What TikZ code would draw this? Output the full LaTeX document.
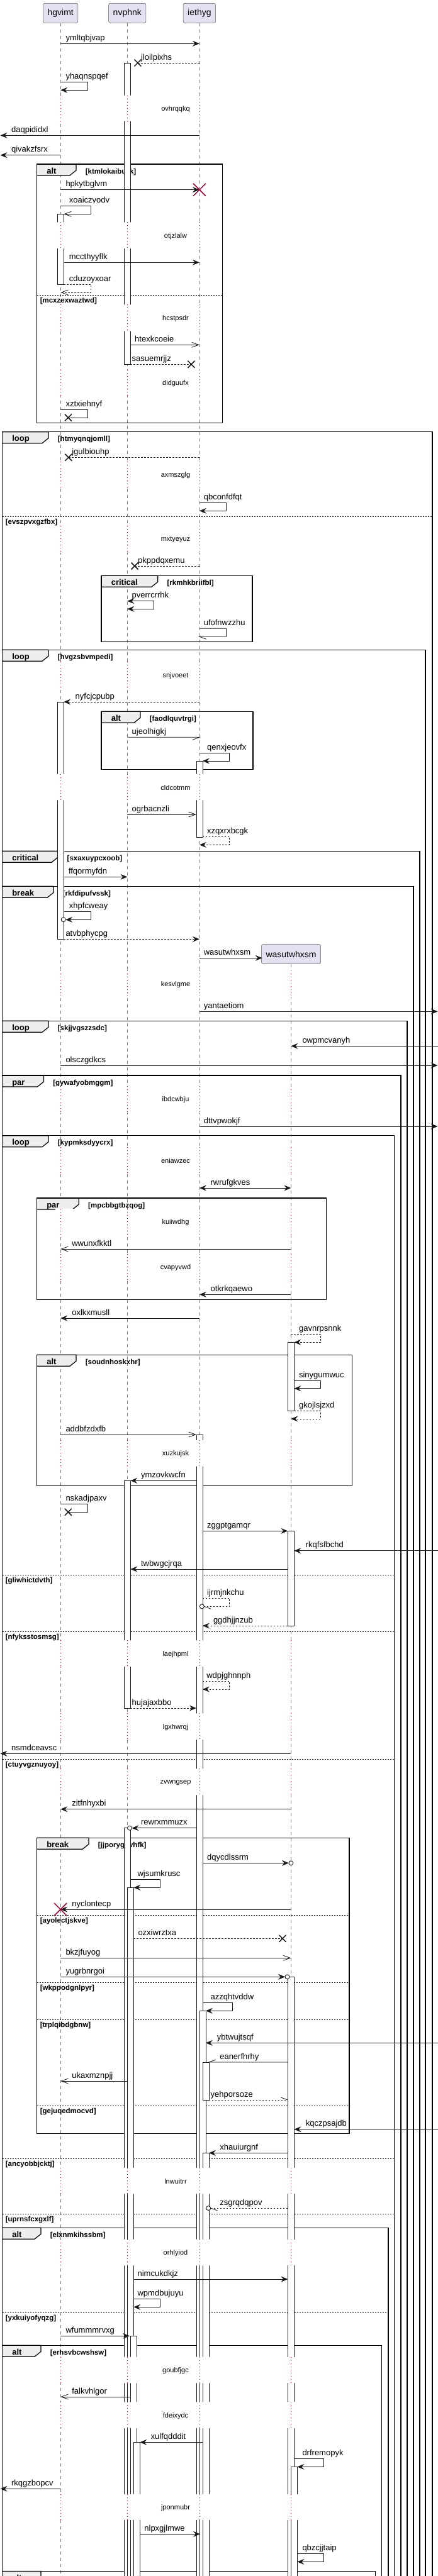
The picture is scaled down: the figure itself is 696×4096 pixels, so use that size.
\documentclass[tikz,border=0pt]{standalone}
\usepackage{fontspec}
\setmainfont{Liberation Sans}
\usetikzlibrary{arrows.meta}

\definecolor{partfill}{RGB}{226,226,240}
\definecolor{partline}{RGB}{90,90,90}
\definecolor{lifegray}{RGB}{120,120,120}
\definecolor{ink}{RGB}{24,24,24}
\definecolor{delayred}{RGB}{168,0,54}
\definecolor{tabfill}{RGB}{238,238,238}

\tikzset{
	part/.style={draw=partline, fill=partfill, rounded corners=2.5pt, line width=0.5pt,
		minimum height=31pt, inner xsep=7pt, font=\fontsize{14}{16}\selectfont},
	life/.style={draw=lifegray, line width=0.6pt, dash pattern=on 5pt off 5pt},
	act/.style={draw=ink, fill=white, line width=0.8pt},
	plain/.style={draw=ink, line width=0.8pt},
	msg/.style={plain, -{Stealth[length=11pt, width=9pt, inset=4pt]}},
	opn/.style={plain, -{Straight Barb[length=11pt, width=8pt]}},
	bidir/.style={plain, {Stealth[length=11pt, width=9pt, inset=4pt]}-{Stealth[length=11pt, width=9pt, inset=4pt]}},
	ret/.style={dash pattern=on 2.5pt off 2.5pt},
	lbl/.style={anchor=base west, inner sep=0pt, font=\fontsize{13}{15}\selectfont},
	dly/.style={inner sep=0pt, font=\fontsize{11}{13}\selectfont},
	dline/.style={draw=delayred, line width=0.8pt, dash pattern=on 1pt off 4pt},
	grpframe/.style={draw=black, line width=1.5pt},
	tab/.style={draw=black, fill=tabfill, line width=1.2pt},
	kw/.style={anchor=base west, inner sep=0pt, font=\fontsize{13}{15}\selectfont\bfseries},
	grd/.style={anchor=base west, inner sep=0pt, font=\fontsize{11.5}{13}\selectfont\bfseries},
	elseline/.style={draw=black, line width=0.7pt, dash pattern=on 2pt off 2pt},
	xmark/.style={draw=ink, line width=1.5pt},
	kill/.style={draw=delayred, line width=1.5pt},
	endo/.style={draw=ink, fill=white, line width=0.9pt},
}

\begin{document}
\begin{tikzpicture}[x=1pt, y=-1pt]
	\useasboundingbox (0,0) rectangle (696,4096);
	\fill[white] (0,0) rectangle (696,4096);
	\clip (0,0) rectangle (696,4096);

	\node[part] (hgvimt) at (96.2,20.8) {hgvimt};
	\node[part] (nvphnk) at (202.3,20.8) {nvphnk};
	\node[part] (iethyg) at (316.9,20.8) {iethyg};
	\draw[life] (hgvimt.south) -- (hgvimt.south |- 0,4110);
	\draw[life] (nvphnk.south) -- (nvphnk.south |- 0,4110);
	\draw[life] (iethyg.south) -- (iethyg.south |- 0,4110);
	\node[part] (wasutwhxsm) at (462.6,1517) {wasutwhxsm};
	\draw[life] (wasutwhxsm.south) -- (wasutwhxsm.south |- 0,4110);

	\draw[tab] (58.6,261) -- (120.9,261) -- (120.9,271) -- (110.9,279) -- (58.6,279);
	\draw[grpframe] (58.6,261) rectangle (353.6,672.3);
	\node[kw] (altA) at (74.1,276) {alt};
	\node[grd] (ktmlokaibuzk) at (135.6,276) {[ktmlokaibuzk]};
	\draw[elseline] (58.6,469) -- (353.6,469);
	\node[grd] (mcxzexwaztwd) at (63.6,481) {[mcxzexwaztwd]};

	\draw[tab] (3.6,686.7) -- (77,686.7) -- (77,696.7) -- (67,704.7) -- (3.6,704.7);
	\draw[grpframe] (3.6,4110) -- (3.6,686.7) -- (687.1,686.7) -- (687.1,4110);
	\node[kw] (loopA) at (19.1,701.7) {loop};
	\node[grd] (htmyqnqjomll) at (91.7,701.7) {[htmyqnqjomll]};
	\draw[elseline] (3.6,821) -- (687.1,821);
	\node[grd] (evszpvxgzfbx) at (8.6,833) {[evszpvxgzfbx]};

	\draw[tab] (161.1,915.3) -- (250.7,915.3) -- (250.7,925.3) -- (240.7,933.3) -- (161.1,933.3);
	\draw[grpframe] (161.1,915.3) rectangle (401.1,1020.7);
	\node[kw] (criticalA) at (176.6,930.3) {critical};
	\node[grd] (rkmhkbriifbl) at (265.4,930.3) {[rkmhkbriifbl]};

	\draw[tab] (3.6,1033.3) -- (77,1033.3) -- (77,1043.3) -- (67,1051.3) -- (3.6,1051.3);
	\draw[grpframe] (3.6,4110) -- (3.6,1033.3) -- (675.9,1033.3) -- (675.9,4110);
	\node[kw] (loopB) at (19.1,1048.3) {loop};
	\node[grd] (hvgzsbvmpedi) at (91.7,1048.3) {[hvgzsbvmpedi]};

	\draw[tab] (161.1,1131.3) -- (222.9,1131.3) -- (222.9,1141.3) -- (212.9,1149.3) -- (161.1,1149.3);
	\draw[grpframe] (161.1,1131.3) rectangle (402,1223.7);
	\node[kw] (altB) at (176.6,1146.3) {alt};
	\node[grd] (faodlquvtrgi) at (237.6,1146.3) {[faodlquvtrgi]};

	\draw[tab] (3.6,1353.3) -- (91.8,1353.3) -- (91.8,1363.3) -- (81.8,1371.3) -- (3.6,1371.3);
	\draw[grpframe] (3.6,4110) -- (3.6,1353.3) -- (666.9,1353.3) -- (666.9,4110);
	\node[kw] (criticalB) at (19.1,1368.3) {critical};
	\node[grd] (sxaxuypcxoob) at (106.5,1368.3) {[sxaxuypcxoob]};

	\draw[tab] (3.6,1409.3) -- (85,1409.3) -- (85,1419.3) -- (75,1427.3) -- (3.6,1427.3);
	\draw[grpframe] (3.6,4110) -- (3.6,1409.3) -- (657.1,1409.3) -- (657.1,4110);
	\node[kw] (breakA) at (19.1,1424.3) {break};
	\node[grd] (rkfdipufvssk) at (99.7,1424.3) {[rkfdipufvssk]};

	\draw[tab] (3.6,1623.3) -- (77,1623.3) -- (77,1633.3) -- (67,1641.3) -- (3.6,1641.3);
	\draw[grpframe] (3.6,4110) -- (3.6,1623.3) -- (646.8,1623.3) -- (646.8,4110);
	\node[kw] (loopC) at (19.1,1638.3) {loop};
	\node[grd] (skjjvgszzsdc) at (91.7,1638.3) {[skjjvgszzsdc]};

	\draw[tab] (3.6,1710) -- (69.4,1710) -- (69.4,1720) -- (59.4,1728) -- (3.6,1728);
	\draw[grpframe] (3.6,4110) -- (3.6,1710) -- (636.9,1710) -- (636.9,4110);
	\node[kw] (parA) at (19.1,1725) {par};
	\node[grd] (gywafyobmggm) at (84.1,1725) {[gywafyobmggm]};

	\draw[tab] (3.6,1805.7) -- (77,1805.7) -- (77,1815.7) -- (67,1823.7) -- (3.6,1823.7);
	\draw[grpframe] (3.6,4110) -- (3.6,1805.7) -- (626.6,1805.7) -- (626.6,4110);
	\node[kw] (loopD) at (19.1,1820.7) {loop};
	\node[grd] (kypmksdyycrx) at (91.7,1820.7) {[kypmksdyycrx]};
	\draw[elseline] (3.6,2504.3) -- (626.6,2504.3);
	\node[grd] (gliwhictdvth) at (8.6,2516.3) {[gliwhictdvth]};
	\draw[elseline] (3.6,2594.3) -- (626.6,2594.3);
	\node[grd] (nfyksstosmsg) at (8.6,2606.3) {[nfyksstosmsg]};
	\draw[elseline] (3.6,2797.3) -- (626.6,2797.3);
	\node[grd] (ctuyvgznuyoy) at (8.6,2809.3) {[ctuyvgznuyoy]};
	\draw[elseline] (3.6,3432.3) -- (626.6,3432.3);
	\node[grd] (ancyobbjcktj) at (8.6,3444.3) {[ancyobbjcktj]};
	\draw[elseline] (3.6,3520) -- (626.6,3520);
	\node[grd] (uprnsfcxgxlf) at (8.6,3532) {[uprnsfcxgxlf]};

	\draw[tab] (58.6,1905) -- (125.3,1905) -- (125.3,1915) -- (115.3,1923) -- (58.6,1923);
	\draw[grpframe] (58.6,1905) rectangle (518.3,2066.7);
	\node[kw] (parB) at (74.1,1920) {par};
	\node[grd] (mpcbbgtbzqog) at (140,1920) {[mpcbbgtbzqog]};

	\draw[tab] (58.6,2154.3) -- (120.9,2154.3) -- (120.9,2164.3) -- (110.9,2172.3) -- (58.6,2172.3);
	\draw[grpframe] (58.6,2154.3) rectangle (559.5,2362.7);
	\node[kw] (altC) at (74.1,2169.3) {alt};
	\node[grd] (soudnhoskxhr) at (135.6,2169.3) {[soudnhoskxhr]};

	\draw[tab] (58.6,2922.3) -- (141,2922.3) -- (141,2932.3) -- (131,2940.3) -- (58.6,2940.3);
	\draw[grpframe] (58.6,2922.3) rectangle (555,3392.3);
	\node[kw] (breakB) at (74.1,2937.3) {break};
	\node[grd] (jjporygnvhfk) at (155.7,2937.3) {[jjporygnvhfk]};
	\draw[elseline] (58.6,3045) -- (555,3045);
	\node[grd] (ayolectjskve) at (63.6,3057) {[ayolectjskve]};
	\draw[elseline] (58.6,3152.3) -- (555,3152.3);
	\node[grd] (wkppodgnlpyr) at (63.6,3164.3) {[wkppodgnlpyr]};
	\draw[elseline] (58.6,3211.7) -- (555,3211.7);
	\node[grd] (trplqibdgbnw) at (63.6,3223.7) {[trplqibdgbnw]};
	\draw[elseline] (58.6,3348.3) -- (555,3348.3);
	\node[grd] (gejuqedmocvd) at (63.6,3360.3) {[gejuqedmocvd]};

	\draw[tab] (3.6,3542.3) -- (64.9,3542.3) -- (64.9,3552.3) -- (54.9,3560.3) -- (3.6,3560.3);
	\draw[grpframe] (3.6,4110) -- (3.6,3542.3) -- (616.8,3542.3) -- (616.8,4110);
	\node[kw] (altD) at (19.1,3557.3) {alt};
	\node[grd] (elxnmkihssbm) at (79.6,3557.3) {[elxnmkihssbm]};
	\draw[elseline] (3.6,3677.3) -- (616.8,3677.3);
	\node[grd] (yxkuiyofyqzg) at (8.6,3689.3) {[yxkuiyofyqzg]};

	\draw[tab] (3.6,3729.3) -- (64.9,3729.3) -- (64.9,3739.3) -- (54.9,3747.3) -- (3.6,3747.3);
	\draw[grpframe] (3.6,4110) -- (3.6,3729.3) -- (606.5,3729.3) -- (606.5,4110);
	\node[kw] (altE) at (19.1,3744.3) {alt};
	\node[grd] (erhsvbcwshsw) at (79.6,3744.3) {[erhsvbcwshsw]};

	\draw[tab] (3.6,4088.3) -- (64.9,4088.3) -- (64.9,4098.3) -- (54.9,4106.3) -- (3.6,4106.3);
	\draw[grpframe] (3.6,4110) -- (3.6,4088.3) -- (596.7,4088.3) -- (596.7,4110);
	\node[kw] (altF) at (19.1,4103.3) {alt};

	\draw[act] (91.2,340.3) rectangle (101.2,452.3);
	\draw[act] (91.2,1116) rectangle (101.2,1493.3);
	\draw[act] (197.3,100) rectangle (207.3,579.3);
	\draw[act] (197.3,2354.3) rectangle (207.3,2716);
	\draw[act] (197.3,2906.7) rectangle (207.3,4110);
	\draw[act] (202.3,3001.3) rectangle (212.3,4110);
	\draw[act] (207.3,3714.3) rectangle (217.3,4110);
	\draw[act] (212.3,3883.3) rectangle (222.3,4110);
	\draw[act] (311.9,1210) rectangle (321.9,1331);
	\draw[act] (311.9,2281) rectangle (321.9,4110);
	\draw[act] (316.9,3197.3) rectangle (326.9,4110);
	\draw[act] (321.9,3279) rectangle (331.9,3339);
	\draw[act] (321.9,3423.3) rectangle (331.9,4110);
	\draw[act] (457.4,2134.3) rectangle (467.4,2243.3);
	\draw[act] (457.4,2434.3) rectangle (467.4,2585);
	\draw[act] (457.4,3143.3) rectangle (467.4,4110);
	\draw[act] (462.4,3922.3) rectangle (472.4,4110);

	\foreach \ya/\yb/\txt in {151.7/192.7/ovhrqqkq, 353.3/395/otjzlalw, 484.3/526.7/hcstpsdr,
		587.5/629/didguufx, 734/776/axmszglg, 836.3/878.3/mxtyeyuz, 1052.3/1094.3/snjvoeet,
		1230.7/1272.3/cldcotmm, 1543.3/1585/kesvlgme, 1727/1769/ibdcwbju, 1824/1866/eniawzec,
		1922/1964/kuiiwdhg, 1994/2036/cvapyvwd, 2290/2331.7/xuzkujsk, 2608.3/2650/laejhpml,
		2724.3/2766/lgxhwrqj, 2812.3/2854.3/zvwngsep, 3447/3488.3/lnwuitrr, 3560.7/3602.3/orhlyiod,
		3747.7/3789.3/goubfjgc, 3819.3/3861/fdeixydc, 3965.7/4006.7/jponmubr}
	{
		\fill[white] (88,\ya) rectangle (120,\yb) (195,\ya) rectangle (225,\yb) (309,\ya) rectangle (335,\yb);
		\draw[dline] (96.2,\ya) -- (96.2,\yb) (202.3,\ya) -- (202.3,\yb) (316.9,\ya) -- (316.9,\yb);
		\node[dly] (\txt) at (279,{(\ya+\yb)/2+1}) {\txt};
	}
	\foreach \ya/\yb in {1543.3/1585, 1727/1769, 1824/1866, 1922/1964, 1994/2036, 2290/2331.7,
		2608.3/2650, 2724.3/2766, 2812.3/2854.3, 3447/3488.3, 3560.7/3602.3, 3747.7/3789.3,
		3819.3/3861, 3965.7/4006.7}
	{
		\fill[white] (455,\ya) rectangle (476,\yb);
		\draw[dline] (462.4,\ya) -- (462.4,\yb);
	}

	\draw[msg] (96.2,69.3) -- (316.9,69.3);
	\node[lbl] (ymltqbjvap) at (104.3,64.3) {ymltqbjvap};
	\draw[plain, ret] (316.9,100) -- (218.9,100);
	\draw[xmark] (218.9,100) +(-5.5,-5.5) -- +(5.5,5.5) +(-5.5,5.5) -- +(5.5,-5.5);
	\node[lbl] (jloilpixhs) at (223.8,95) {jloilpixhs};
	\draw[msg] (96.2,130.7) -- (139.7,130.7) -- (139.7,143.3) -- (96.2,143.3);
	\node[lbl] (yhaqnspqef) at (104.3,125.7) {yhaqnspqef};
	\draw[msg] (316.9,215.3) -- (0.5,215.3);
	\node[lbl] (daqpididxl) at (17.9,210.3) {daqpididxl};
	\draw[msg] (96.2,246.7) -- (0.5,246.7);
	\node[lbl] (qivakzfsrx) at (17.9,241.7) {qivakzfsrx};
	\draw[msg] (96.2,301.7) -- (316.9,301.7);
	\draw[kill] (316.9,301.7) +(-10,-10) -- +(10,10) +(-10,10) -- +(10,-10);
	\node[lbl] (hpkytbglvm) at (104.3,296.7) {hpkytbglvm};
	\draw[opn] (96.2,327.7) -- (144.6,327.7) -- (144.6,340.3) -- (101.2,340.3);
	\node[lbl] (xoaiczvodv) at (109.7,322.7) {xoaiczvodv};
	\draw[msg] (101.2,417.3) -- (316.9,417.3);
	\node[lbl] (mccthyyflk) at (109.7,412.3) {mccthyyflk};
	\draw[opn, ret] (101.2,452.3) -- (144.6,452.3) -- (144.6,465) -- (96.2,465);
	\node[lbl] (cduzoyxoar) at (109.7,447.3) {cduzoyxoar};
	\draw[opn] (207.3,548.3) -- (316.9,548.3);
	\node[lbl] (htexkcoeie) at (214,543.3) {htexkcoeie};
	\draw[plain, ret] (207.3,579.3) -- (303.9,579.3);
	\draw[xmark] (303.9,579.3) +(-5.5,-5.5) -- +(5.5,5.5) +(-5.5,5.5) -- +(5.5,-5.5);
	\node[lbl] (sasuemrjjz) at (209.5,574.3) {sasuemrjjz};
	\draw[plain] (96.2,651) -- (139.7,651) -- (139.7,664) -- (108.3,664);
	\draw[xmark] (108.3,664) +(-5.5,-5.5) -- +(5.5,5.5) +(-5.5,5.5) -- +(5.5,-5.5);
	\node[lbl] (xztxiehnyf) at (104.3,646) {xztxiehnyf};

	\draw[plain, ret] (316.9,727.3) -- (108.8,727.3);
	\draw[xmark] (108.8,727.3) +(-5.5,-5.5) -- +(5.5,5.5) +(-5.5,5.5) -- +(5.5,-5.5);
	\node[lbl] (jgulbiouhp) at (114.1,722.3) {jgulbiouhp};
	\draw[msg] (316.9,799.3) -- (359.4,799.3) -- (359.4,812.3) -- (316.9,812.3);
	\node[lbl] (qbconfdfqt) at (323.6,794.3) {qbconfdfqt};
	\draw[plain, ret] (316.9,900) -- (214,900);
	\draw[xmark] (214,900) +(-5.5,-5.5) -- +(5.5,5.5) +(-5.5,5.5) -- +(5.5,-5.5);
	\node[lbl] (pkppdqxemu) at (218.9,895) {pkppdqxemu};
	\draw[bidir] (202.3,955.7) -- (244.4,955.7) -- (244.4,968.3) -- (202.3,968.3);
	\node[lbl] (pverrcrrhk) at (209.5,950.7) {pverrcrrhk};
	\draw[plain] (316.9,999.3) -- (359.4,999.3) -- (359.4,1012.3) -- (316.9,1012.3) -- ++(11,4);
	\node[lbl] (ufofnwzzhu) at (323.6,994.3) {ufofnwzzhu};

	\draw[msg, ret] (316.9,1116) -- (101.2,1116);
	\node[lbl] (nyfcjcpubp) at (119.5,1111) {nyfcjcpubp};
	\draw[plain] (202.3,1172.3) -- (316.9,1172.3) -- ++(-11,4);
	\node[lbl] (ujeolhigkj) at (209.5,1167.3) {ujeolhigkj};
	\draw[msg] (316.9,1197.3) -- (364.8,1197.3) -- (364.8,1210) -- (321.9,1210);
	\node[lbl] (qenxjeovfx) at (329,1192.3) {qenxjeovfx};
	\draw[opn] (202.3,1295) -- (311.9,1295);
	\node[lbl] (ogrbacnzli) at (209.5,1290) {ogrbacnzli};
	\draw[msg, ret] (321.9,1330.3) -- (364.8,1330.3) -- (364.8,1343.3) -- (316.9,1343.3);
	\node[lbl] (xzqxrxbcgk) at (329,1325.3) {xzqxrxbcgk};
	\draw[msg] (101.2,1394.3) -- (202.3,1394.3);
	\node[lbl] (ffqormyfdn) at (108.8,1389.3) {ffqormyfdn};
	\draw[msg] (101.2,1449.3) -- (144.6,1449.3) -- (144.6,1462.3) -- (104.2,1462.3);
	\draw[endo] (100.7,1462.3) circle[radius=3.5pt];
	\node[lbl] (xhpfcweay) at (109.7,1444.3) {xhpfcweay};
	\draw[msg, ret] (101.2,1493.3) -- (316.9,1493.3);
	\node[lbl] (atvbphycpg) at (104.3,1488.3) {atvbphycpg};
	\draw[msg] (316.9,1523.3) -- (416.7,1523.3);
	\node[lbl] (wasutwhxsmlbl) at (323.6,1518.3) {wasutwhxsm};
	\draw[msg] (316.9,1608.3) -- (695.5,1608.3);
	\node[lbl] (yantaetiom) at (323.6,1603.3) {yantaetiom};
	\draw[msg] (696,1663.3) -- (462.4,1663.3);
	\node[lbl] (owpmcvanyh) at (480.3,1658.3) {owpmcvanyh};
	\draw[msg] (96.2,1694) -- (695.5,1694);
	\node[lbl] (olsczgdkcs) at (104.3,1689) {olsczgdkcs};
	\draw[msg] (316.9,1791) -- (695.5,1791);
	\node[lbl] (dttvpwokjf) at (323.6,1786) {dttvpwokjf};
	\draw[bidir] (316.9,1889) -- (462.4,1889);
	\node[lbl] (rwrufgkves) at (334.4,1884) {rwrufgkves};
	\draw[opn] (462.4,1986) -- (96.2,1986);
	\node[lbl] (wwunxfkktl) at (114.1,1981) {wwunxfkktl};
	\draw[msg] (462.4,2058.3) -- (316.9,2058.3);
	\node[lbl] (otkrkqaewo) at (334.4,2053.3) {otkrkqaewo};

	\draw[msg] (316.9,2096) -- (96.2,2096);
	\node[lbl] (oxlkxmusll) at (114.1,2091) {oxlkxmusll};
	\draw[msg, ret] (462.4,2121) -- (509.4,2121) -- (509.4,2134.3) -- (467.4,2134.3);
	\node[lbl] (gavnrpsnnk) at (474.9,2116) {gavnrpsnnk};
	\draw[msg] (467.4,2195.7) -- (509.4,2195.7) -- (509.4,2207.7) -- (467.4,2207.7);
	\node[lbl] (sinygumwuc) at (474.9,2190.7) {sinygumwuc};
	\draw[msg, ret] (467.4,2243.3) -- (509.4,2243.3) -- (509.4,2256) -- (462.4,2256);
	\node[lbl] (gkojlsjzxd) at (474.9,2238.3) {gkojlsjzxd};
	\draw[opn] (96.2,2281) -- (311.9,2281);
	\node[lbl] (addbfzdxfb) at (104.3,2276) {addbfzdxfb};
	\draw[msg] (311.9,2354.3) -- (207.3,2354.3);
	\node[lbl] (ymzovkwcfn) at (223.8,2349.3) {ymzovkwcfn};
	\draw[plain] (96.2,2391.7) -- (139.7,2391.7) -- (139.7,2404.3) -- (108.3,2404.3);
	\draw[xmark] (108.3,2404.3) +(-5.5,-5.5) -- +(5.5,5.5) +(-5.5,5.5) -- +(5.5,-5.5);
	\node[lbl] (nskadjpaxv) at (104.3,2386.7) {nskadjpaxv};
	\draw[msg] (321.9,2434.3) -- (457.4,2434.3);
	\node[lbl] (zggptgamqr) at (329,2429.3) {zggptgamqr};
	\draw[msg] (696,2465.7) -- (467.4,2465.7);
	\node[lbl] (rkqfsfbchd) at (485.7,2460.7) {rkqfsfbchd};
	\draw[msg] (457.4,2495) -- (207.3,2495);
	\node[lbl] (twbwgcjrqa) at (223.8,2490) {twbwgcjrqa};
	\draw[plain, ret] (321.9,2541) -- (364.8,2541) -- (364.8,2554.3) -- (324.4,2554.3);
	\draw[endo] (320.9,2554.3) circle[radius=3.5pt];
	\draw[plain] (324.4,2554.3) -- ++(11,4);
	\node[lbl] (ijrmjnkchu) at (329,2536) {ijrmjnkchu};
	\draw[msg, ret] (457.4,2585) -- (321.9,2585);
	\node[lbl] (ggdhjjnzub) at (338.8,2580) {ggdhjjnzub};
	\draw[msg, ret] (321.9,2673.3) -- (364.8,2673.3) -- (364.8,2686) -- (321.9,2686);
	\node[lbl] (wdpjghnnph) at (328.1,2668.3) {wdpjghnnph};
	\draw[msg, ret] (207.3,2716) -- (311.9,2716);
	\node[lbl] (hujajaxbbo) at (209.5,2711) {hujajaxbbo};

	\draw[msg] (462.4,2788.3) -- (0.5,2788.3);
	\node[lbl] (nsmdceavsc) at (17.9,2783.3) {nsmdceavsc};
	\draw[msg] (462.4,2876.7) -- (96.2,2876.7);
	\node[lbl] (zitfnhyxbi) at (114.1,2871.7) {zitfnhyxbi};
	\draw[msg] (311.9,2906.7) -- (209.4,2906.7);
	\draw[endo] (205.9,2906.7) circle[radius=3.5pt];
	\node[lbl] (rewrxmmuzx) at (223.8,2901.7) {rewrxmmuzx};
	\draw[msg] (321.9,2962.3) -- (458.9,2962.3);
	\draw[endo] (462.4,2962.3) circle[radius=3.5pt];
	\node[lbl] (dqycdlssrm) at (329,2957.3) {dqycdlssrm};
	\draw[msg] (207.3,2988.7) -- (254.7,2988.7) -- (254.7,3001.3) -- (212.3,3001.3);
	\node[lbl] (wjsumkrusc) at (218.4,2983.7) {wjsumkrusc};
	\draw[msg] (462.4,3036) -- (96.2,3036);
	\draw[kill] (96.2,3036) +(-10,-10) -- +(10,10) +(-10,10) -- +(10,-10);
	\node[lbl] (nyclontecp) at (114.1,3031) {nyclontecp};
	\draw[plain, ret] (212.3,3082.3) -- (449,3082.3);
	\draw[xmark] (449,3082.3) +(-5.5,-5.5) -- +(5.5,5.5) +(-5.5,5.5) -- +(5.5,-5.5);
	\node[lbl] (ozxiwrztxa) at (219.3,3077.3) {ozxiwrztxa};
	\draw[opn] (96.2,3113.3) -- (462.4,3113.3);
	\node[lbl] (bkzjfuyog) at (104.3,3108.3) {bkzjfuyog};
	\draw[msg] (96.2,3143.3) -- (453,3143.3);
	\draw[endo] (456.5,3143.3) circle[radius=3.5pt];
	\node[lbl] (yugrbnrgoi) at (104.3,3138.3) {yugrbnrgoi};
	\draw[msg] (321.9,3184.3) -- (369.7,3184.3) -- (369.7,3197.3) -- (326.9,3197.3);
	\node[lbl] (azzqhtvddw) at (334.4,3179.3) {azzqhtvddw};
	\draw[msg] (696,3248.3) -- (326.9,3248.3);
	\node[lbl] (ybtwujtsqf) at (344.7,3243.3) {ybtwujtsqf};
	\draw[plain] (457.4,3279) -- (331.9,3279) -- ++(11,-4);
	\node[lbl] (eanerfhrhy) at (349.1,3274) {eanerfhrhy};
	\draw[opn] (202.3,3309) -- (96.2,3309);
	\node[lbl] (ukaxmznpjj) at (114.1,3304) {ukaxmznpjj};
	\draw[plain, ret] (331.9,3339) -- (457.4,3339);
	\draw[plain] (457.4,3339) -- ++(-11,-4);
	\node[lbl] (yehporsoze) at (334.4,3334) {yehporsoze};
	\draw[msg] (696,3385.7) -- (467.4,3385.7);
	\node[lbl] (kqczpsajdb) at (485.7,3380.7) {kqczpsajdb};
	\draw[msg] (457.4,3423.3) -- (331.9,3423.3);
	\node[lbl] (xhauiurgnf) at (349.1,3418.3) {xhauiurgnf};

	\draw[plain, ret] (457.4,3511) -- (334.7,3511);
	\draw[endo] (331.2,3511) circle[radius=3.5pt];
	\draw[plain] (334.7,3511) -- ++(11,4);
	\node[lbl] (zsgrqdqpov) at (349.1,3506) {zsgrqdqpov};
	\draw[msg] (212.3,3624) -- (457.4,3624);
	\node[lbl] (nimcukdkjz) at (218.4,3619) {nimcukdkjz};
	\draw[msg] (212.3,3655.7) -- (254.7,3655.7) -- (254.7,3668.3) -- (212.3,3668.3);
	\node[lbl] (wpmdbujuyu) at (218.4,3650.7) {wpmdbujuyu};
	\draw[msg] (96.2,3714.3) -- (206,3714.3);
	\node[lbl] (wfummmrvxg) at (104.3,3709.3) {wfummmrvxg};
	\draw[opn] (207.3,3811) -- (96.2,3811);
	\node[lbl] (falkvhlgor) at (114.1,3806) {falkvhlgor};
	\draw[msg] (321.9,3883.3) -- (222.3,3883.3);
	\node[lbl] (xulfqdddit) at (239.5,3878.3) {xulfqdddit};
	\draw[msg] (467.4,3909.3) -- (514.7,3909.3) -- (514.7,3922.3) -- (472.4,3922.3);
	\node[lbl] (drfremopyk) at (480.3,3904.3) {drfremopyk};
	\draw[msg] (96.2,3957.3) -- (0.5,3957.3);
	\node[lbl] (rkqgzbopcv) at (17.9,3952.3) {rkqgzbopcv};
	\draw[msg] (222.3,4029.3) -- (318,4029.3);
	\node[lbl] (nlpxgjlmwe) at (229.2,4024.3) {nlpxgjlmwe};
	\draw[msg] (472.4,4060.7) -- (514.7,4060.7) -- (514.7,4073.3) -- (472.4,4073.3);
	\node[lbl] (qbzcjjtaip) at (480.3,4055.7) {qbzcjjtaip};
\end{tikzpicture}
\end{document}
